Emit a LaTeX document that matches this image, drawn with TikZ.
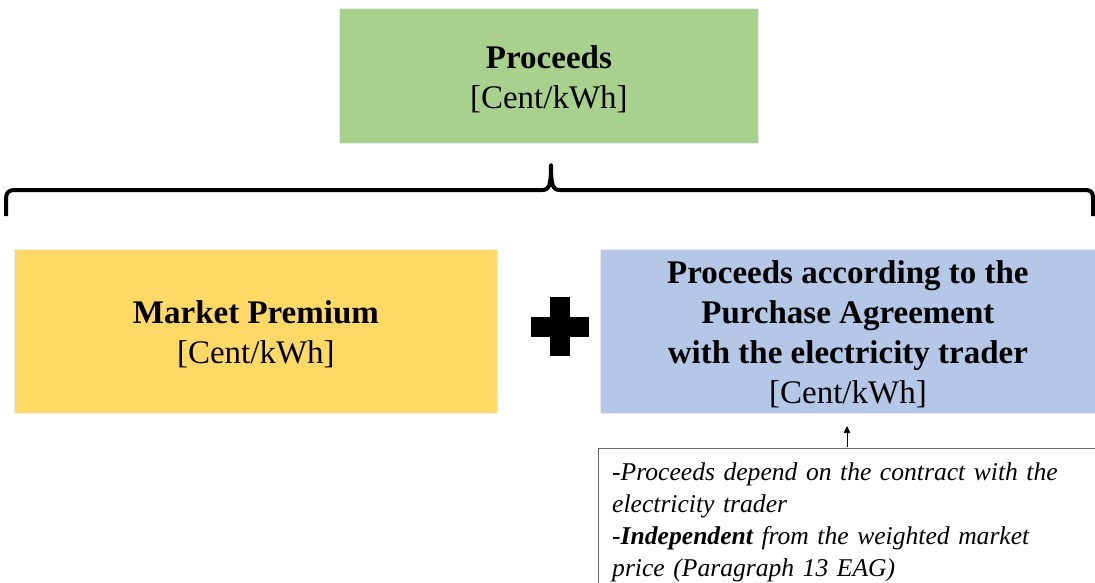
\documentclass[tikz,border=0pt]{standalone}
\usepackage{fontspec}
\setmainfont{Liberation Serif}
\usetikzlibrary{arrows.meta}
\definecolor{cgreen}{HTML}{A9D18E}
\definecolor{cyellow}{HTML}{FFD966}
\definecolor{cblue}{HTML}{B4C7E7}
\begin{document}
\begin{tikzpicture}[x=1pt,y=-1pt,
  box/.style={draw=white!85!gray,line width=0.8pt,inner sep=0pt,anchor=north west},
  big/.style={font=\fontsize{33}{40}\selectfont,align=center,inner sep=0pt},
  noteframe/.style={draw=gray!80!black,line width=0.8pt},
  notetext/.style={anchor=north west,align=left,inner sep=0pt,text width=480pt,
    font=\fontsize{25.6}{32}\itshape\selectfont}]
\useasboundingbox (0,0) rectangle (1095,583);
\begin{scope}
\clip (0,0) rectangle (1095,583);
\node[box,fill=cgreen,minimum width=419pt,minimum height=135pt] (total) at (339,8) {};
\node[big] (totalt) at ([yshift=-3pt]total.center)
  {\textbf{Proceeds}\\{[}Cent/kWh{]}};
\node[box,fill=cyellow,minimum width=483pt,minimum height=164pt] (mp) at (14,249) {};
\node[big] (mpt) at ([yshift=-3pt]mp.center)
  {\textbf{Market Premium}\\{[}Cent/kWh{]}};
\node[box,fill=cblue,minimum width=495pt,minimum height=164pt] (pa) at (600,249) {};
\node[big] (pat) at ([yshift=-3pt]pa.center)
  {\textbf{Proceeds according to the}\\\textbf{Purchase Agreement}\\\textbf{with the electricity trader}\\{[}Cent/kWh{]}};
\draw[noteframe] (598,448) rectangle (1110,600);
\node[notetext] (nt) at (612,463)
  {-Proceeds depend on the contract with the\\electricity trader\\-\textbf{Independent} from the weighted market\\price (Paragraph 13 EAG)};
\coordinate (ntop) at (847,447);
\coordinate (pab) at (847,426);
\draw[-{Triangle[length=7pt,width=6.5pt]},line width=0.7pt] (ntop) -- (pab);
% brace
\draw[line width=4pt,line cap=butt,line join=round]
  (6,216) -- (6,200) .. controls (6,192) and (8,190) .. (16,190)
  -- (542,190) .. controls (549,190) and (551,186) .. (551,165)
  .. controls (551,186) and (553,190) .. (560,190)
  -- (1084,190) .. controls (1092,190) and (1093,192) .. (1093,200) -- (1093,216);
% plus
\fill[black] (550,297) rectangle (570,356);
\fill[black] (531,317) rectangle (589,337);
\end{scope}
\end{tikzpicture}
\end{document}
